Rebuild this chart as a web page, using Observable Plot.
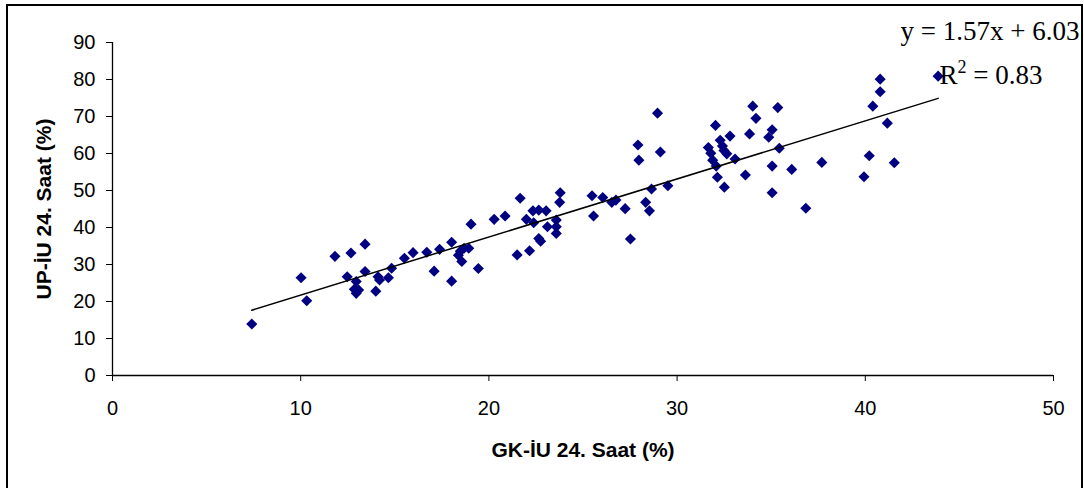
<!DOCTYPE html>
<html>
<head>
<meta charset="utf-8">
<script src="https://cdn.jsdelivr.net/npm/d3@7"></script>
<script src="https://cdn.jsdelivr.net/npm/@observablehq/plot@0.6"></script>
<style>
  html, body { margin: 0; padding: 0; background: #fff; overflow: hidden; }
  #chart { position: relative; width: 1084px; height: 488px; }
  #chart svg { position: absolute; left: 0; top: 0; }
  #edge {
    position: absolute; left: 6px; top: 4px; width: 1077px; height: 520px;
    box-sizing: border-box; border: 2px solid #000; pointer-events: none;
  }
</style>
</head>
<body>
<div id="chart"><div id="edge"></div></div>
<script>
// GK-İU 24-hour values (%) for each sample
const gk = [
  7.40, 10.02, 10.32, 11.82, 12.67, 13.42, 12.47, 12.95, 13.42, 12.85,
  12.95, 13.08, 13.99, 14.11, 14.19, 14.66, 14.83, 15.51, 15.97, 16.70,
  17.09, 17.38, 18.02, 18.02, 18.48, 18.38, 18.68, 18.93, 18.56, 19.44,
  19.05, 20.28, 20.86, 21.66, 21.50, 22.16, 21.99, 22.38, 22.34, 22.65,
  23.04, 23.11, 22.65, 22.75, 23.58, 23.58, 23.58, 23.79, 23.76, 25.48,
  25.56, 26.05, 26.53, 26.75, 27.24, 27.52, 28.33, 28.53, 28.64, 29.51,
  28.96, 29.11, 27.92, 27.97, 32.04, 31.66, 31.79, 31.89, 32.08, 32.29,
  32.41, 32.49, 32.64, 32.81, 33.08, 32.14, 32.51, 33.85, 34.02, 34.19,
  33.63, 35.05, 34.87, 35.35, 35.43, 35.05, 35.05, 36.09, 37.69, 36.84,
  40.21, 39.93, 40.40, 40.79, 40.79, 41.17, 41.54, 43.87
];
// UP-İU 24-hour values (%) for the same samples
const up = [
  13.9, 26.4, 20.2, 32.2, 33.1, 35.5, 26.7, 25.4, 28.1, 23.3,
  22.2, 23.1, 22.8, 26.7, 25.8, 26.4, 29.0, 31.7, 33.2, 33.3,
  28.2, 34.1, 36.0, 25.5, 33.6, 32.5, 34.4, 34.4, 30.8, 28.9,
  40.9, 42.2, 43.1, 47.9, 32.6, 33.7, 42.2, 41.3, 44.5, 44.7,
  44.5, 40.2, 37.0, 36.3, 42.0, 40.2, 38.4, 49.4, 46.8, 48.6,
  43.1, 48.1, 46.8, 47.4, 45.1, 36.9, 46.8, 44.5, 50.4, 51.3,
  70.9, 60.4, 62.3, 58.2, 67.6, 61.6, 60.1, 58.2, 56.6, 63.6,
  62.0, 60.8, 59.9, 64.7, 58.5, 53.6, 50.9, 65.3, 72.8, 69.5,
  54.2, 66.4, 64.4, 72.4, 61.4, 56.6, 49.4, 55.7, 57.6, 45.2,
  59.4, 53.7, 72.8, 76.7, 80.1, 68.2, 57.5, 80.9
];

// Linear trend line coefficients
const slope = 1.57;
const intercept = 6.03;
const rSquared = 0.83;

const xTicks = [0, 10, 20, 30, 40, 50];
const yTicks = [0, 10, 20, 30, 40, 50, 60, 70, 80, 90];
const xTitle = "GK-İU 24. Saat (%)";
const yTitle = "UP-İU 24. Saat (%)";

const points = gk.map((g, i) => ({gk: g, up: up[i]}));
const [xMin, xMax] = d3.extent(gk);
const trend = [xMin, xMax].map(x => ({gk: x, up: slope * x + intercept}));

const equation = `y = ${slope.toFixed(2)}x + ${intercept.toFixed(2)}`;
const rLabel = `R2 = ${rSquared.toFixed(2)}`;

const sans = "'Liberation Sans', Arial, sans-serif";
const serif = "'Liberation Serif', 'Times New Roman', serif";

const chart = Plot.plot({
  width: 1084,
  height: 488,
  marginLeft: 112,
  marginRight: 31,
  marginTop: 42,
  marginBottom: 113,
  style: {background: "transparent", color: "#000", fontFamily: sans, overflow: "visible"},
  x: {domain: [0, 50]},
  y: {domain: [0, 90]},
  marks: [
    Plot.axisX({ticks: xTicks, tickSize: 6, tickPadding: 19, fontSize: 20, label: null, tickFormat: d => d}),
    Plot.axisY({ticks: yTicks, tickSize: 6, tickPadding: 11, fontSize: 20, label: null, tickFormat: d => d}),
    Plot.ruleY([0], {stroke: "#000", strokeWidth: 1.3}),
    Plot.ruleX([0], {stroke: "#000", strokeWidth: 1.3}),
    Plot.dot(points, {x: "gk", y: "up", symbol: "diamond2", r: 5, fill: "#000080", stroke: "none"}),
    Plot.line(trend, {x: "gk", y: "up", stroke: "#000", strokeWidth: 1.5}),
    Plot.text([equation], {
      text: d => d, frameAnchor: "top-right", textAnchor: "end", lineAnchor: "middle",
      dx: 26, dy: -11, fontSize: 27, fontFamily: serif, fill: "#000"
    }),
    Plot.text([rLabel], {
      text: d => d, frameAnchor: "top-right", textAnchor: "end", lineAnchor: "middle",
      dx: -11, dy: 33, fontSize: 27, fontFamily: serif, fill: "#000", className: "r-squared"
    }),
    Plot.text([xTitle], {
      text: d => d, frameAnchor: "bottom", textAnchor: "middle", lineAnchor: "middle",
      dy: 75, fontSize: 21, fontWeight: "bold", fill: "#000"
    }),
    Plot.text([yTitle], {
      text: d => d, frameAnchor: "left", textAnchor: "middle", lineAnchor: "middle", rotate: -90,
      dx: -68, fontSize: 21, fontWeight: "bold", fill: "#000"
    })
  ]
});

// Raise the "2" of R² as a superscript
d3.select(chart).selectAll("g.r-squared text").each(function() {
  const t = d3.select(this);
  const label = t.text();
  t.text(null);
  t.append("tspan").text(label.slice(0, 1));
  t.append("tspan").attr("dy", "-11").attr("font-size", "18").text(label.slice(1, 2));
  t.append("tspan").attr("dy", "11").text(label.slice(2));
});

document.getElementById("chart").prepend(chart);
</script>
</body>
</html>
